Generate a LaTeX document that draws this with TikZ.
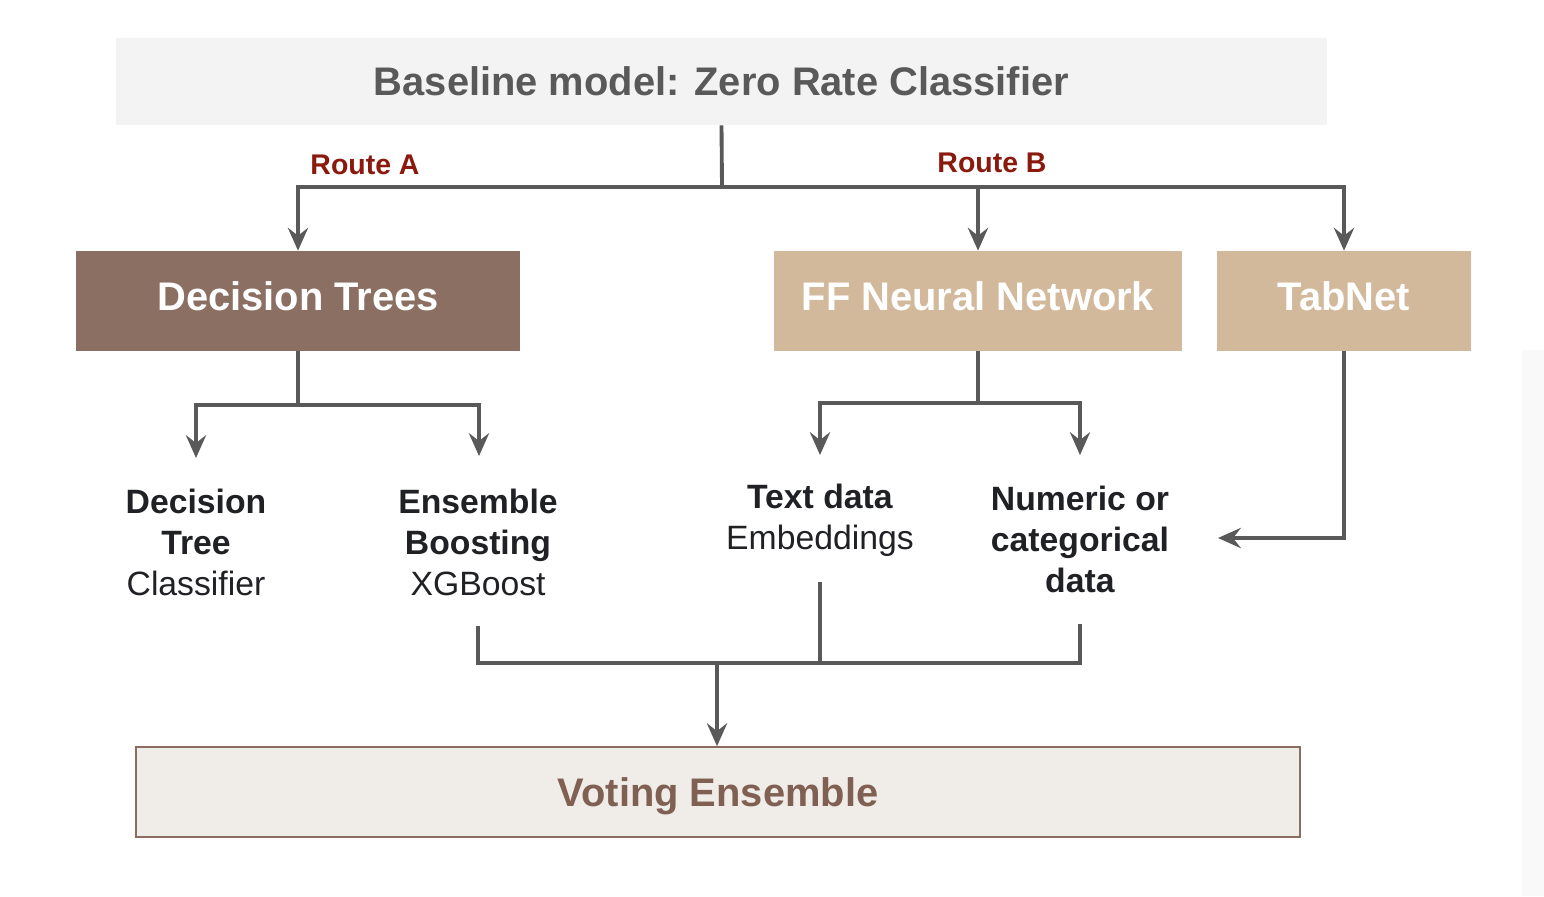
\documentclass[tikz,border=0pt]{standalone}
\usepackage{fontspec}
\setmainfont{Liberation Sans}
\usetikzlibrary{arrows.meta}
\definecolor{titlefill}{HTML}{F3F3F3}
\definecolor{titletext}{HTML}{595959}
\definecolor{dtfill}{HTML}{8B6F62}
\definecolor{nnfill}{HTML}{D3B99B}
\definecolor{routered}{HTML}{8B1A0E}
\definecolor{votefill}{HTML}{F0EDE8}
\definecolor{votedraw}{HTML}{8C6C5E}
\definecolor{votetext}{HTML}{7F6052}
\definecolor{linegray}{HTML}{595959}
\definecolor{labeltext}{HTML}{202124}
\definecolor{panelgray}{HTML}{F9F9F9}
\tikzset{
  bigfont/.style={font=\fontsize{22.7}{27}\selectfont\bfseries},
  boxnode/.style={rectangle, inner sep=0pt, bigfont, text depth=0pt},
  modelbox/.style={boxnode, text=white, minimum height=2cm, text depth=0.2cm},
  labelnode/.style={align=center, inner sep=0pt, text=labeltext, font=\fontsize{19.2}{23.3}\selectfont},
  routelabel/.style={text=routered, font=\fontsize{16.2}{19}\selectfont\bfseries, inner sep=0pt},
  conn/.style={draw=linegray, line width=2.2pt},
  arr/.style={conn, -{Stealth[length=13pt, width=11.5pt, inset=4.5pt]}},
}
\begin{document}
\begin{tikzpicture}[x=0.02cm, y=-0.02cm]
\useasboundingbox (0,0) rectangle (1544,896);
\fill[white] (0,0) rectangle (1544,896);
\fill[panelgray] (1522,350) rectangle (1544,896);

% boxes
\node[boxnode, fill=titlefill, text=titletext, minimum width=24.22cm, minimum height=1.74cm] (title) at (721.5,81.5) {Baseline model: Zero Rate Classifier};
\node[modelbox, fill=dtfill, minimum width=8.88cm] (dt) at (298,301) {Decision Trees};
\node[modelbox, fill=nnfill, minimum width=8.16cm] (ff) at (978,301) {FF Neural Network};
\node[modelbox, fill=nnfill, minimum width=5.08cm] (tab) at (1344,301) {TabNet};
\node[boxnode, fill=votefill, draw=votedraw, line width=1pt, text=votetext, minimum width=23.28cm, minimum height=1.8cm] (vote) at (718,792) {Voting Ensemble};

% route labels
\node[routelabel] (ra) at (365,165) {Route A};
\node[routelabel] (rb) at (992,163) {Route B};

% leaf labels
\node[labelnode] (dtc) at (196,542) {\textbf{Decision}\\\textbf{Tree}\\Classifier};
\node[labelnode] (ebx) at (478,542) {\textbf{Ensemble}\\\textbf{Boosting}\\XGBoost};
\node[labelnode] (ted) at (820,520) {\textbf{Text data}\\Embeddings};
\node[labelnode] (ncd) at (1080,539) {\textbf{Numeric or}\\\textbf{categorical}\\\textbf{data}};

% junctions and free ends
\coordinate (j1) at (722,187);
\coordinate (j2) at (298,405);
\coordinate (j3) at (978,403);
\coordinate (j4) at (717,663);
\coordinate (dtcin) at (196,458);
\coordinate (ebxin) at (479,456);
\coordinate (tedin) at (820,455);
\coordinate (ncdin) at (1080,455);
\coordinate (tabin) at (1218,538);
\coordinate (ebxout) at (478,626);
\coordinate (tedout) at (820,582);
\coordinate (ncdout) at (1080,624);

% connectors
\draw[conn] (title.south) -- (j1);
\draw[arr] (j1) -| (dt.north);
\draw[arr] (j1) -| (ff.north);
\draw[arr] (j1) -| (tab.north);

\draw[conn] (dt.south) -- (j2);
\draw[arr] (j2) -| (dtcin);
\draw[arr] (j2) -| (ebxin);

\draw[conn] (ff.south) -- (j3);
\draw[arr] (j3) -| (tedin);
\draw[arr] (j3) -| (ncdin);

\draw[arr] (tab.south) |- (tabin);

\draw[conn] (ebxout) |- (j4) -| (ncdout);
\draw[conn] (tedout) -- (tedout |- j4);
\draw[arr] (j4) -- (j4 |- vote.north);
\end{tikzpicture}
\end{document}
